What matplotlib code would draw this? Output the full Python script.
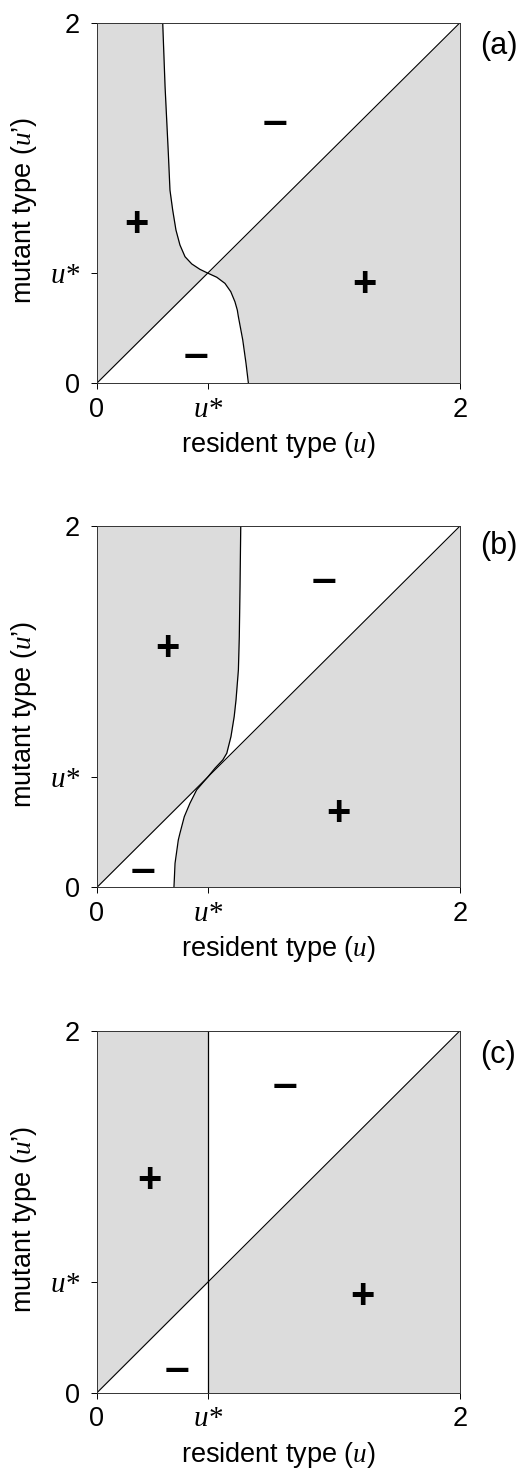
import matplotlib
matplotlib.use("Agg")
import matplotlib.pyplot as plt

plt.rcParams['font.family'] = ['Liberation Sans', 'DejaVu Sans']
plt.rcParams['mathtext.fontset'] = 'custom'
plt.rcParams['mathtext.it'] = 'Liberation Serif:italic'
plt.rcParams['mathtext.rm'] = 'Liberation Serif'

# singular strategy, same for all panels
u_star = 0.61

# boundary curves (x as a function of y)
curve_a_y = [2.0, 1.645, 1.275, 1.071, 0.960, 0.849, 0.766, 0.701, 0.661, 0.631, 0.61,
             0.587, 0.553, 0.507, 0.451, 0.405, 0.368, 0.239, 0.109, 0.0]
curve_a_x = [0.362, 0.375, 0.393, 0.402, 0.417, 0.435, 0.457, 0.485, 0.522, 0.567, 0.61,
             0.660, 0.705, 0.737, 0.760, 0.773, 0.779, 0.803, 0.821, 0.834]

curve_b_y = [2.0, 1.664, 1.387, 1.203, 1.038, 0.946, 0.834, 0.742, 0.705, 0.659, 0.61,
             0.539, 0.465, 0.391, 0.299, 0.262, 0.133, 0.0]
curve_b_x = [0.792, 0.788, 0.784, 0.779, 0.766, 0.756, 0.738, 0.715, 0.693, 0.650, 0.61,
             0.549, 0.512, 0.481, 0.457, 0.448, 0.430, 0.424]

curve_c_y = [2.0, 0.0]
curve_c_x = [0.61, 0.61]

# sign labels: (x, y) in data units
plus_a = [(0.22, 0.878), (1.471, 0.545)]
minus_a = [(0.981, 1.438), (0.545, 0.148)]
plus_b = [(0.389, 1.319), (1.330, 0.406)]
minus_b = [(1.251, 1.692), (0.253, 0.090)]
plus_c = [(0.288, 1.169), (1.460, 0.527)]
minus_c = [(1.038, 1.694), (0.443, 0.125)]

panel_names = ['(a)', '(b)', '(c)']
tick_vals = [0, u_star, 2]
tick_labels = ['0', 'u*', '2']

W, H = 521, 1468
fig = plt.figure(figsize=(W / 100, H / 100), dpi=100)

rects = [
    [97 / W, 1 - 383 / H, 363 / W, 360.3 / H],
    [97 / W, 1 - 887.3 / H, 363 / W, 361.3 / H],
    [97 / W, 1 - 1392.7 / H, 363 / W, 362 / H],
]
name_y = [0.936, 0.945, 0.934]
curves = [(curve_a_x, curve_a_y), (curve_b_x, curve_b_y), (curve_c_x, curve_c_y)]
signs = [(plus_a, minus_a), (plus_b, minus_b), (plus_c, minus_c)]

gray = '#dcdcdc'

for rect, (cx, cy), (pl, mi), name, ny in zip(rects, curves, signs, panel_names, name_y):
    ax = fig.add_axes(rect)
    ax.set_facecolor(gray)
    # white between boundary curve and diagonal
    ax.fill_betweenx(cy, cx, cy, color='white', lw=0)
    ax.plot(cx, cy, color='black', lw=0.9)
    ax.plot([0, 2], [0, 2], color='black', lw=0.8)

    for x, y in pl:
        ax.text(x, y, '+', ha='center', va='center', fontsize=30,
                fontweight='bold', family='Liberation Sans')
    for x, y in mi:
        ax.text(x, y, '\u2013', ha='center', va='center', fontsize=32,
                fontweight='bold', family='Liberation Sans')

    ax.set_xlim(0, 2)
    ax.set_ylim(0, 2)
    ax.set_xticks(tick_vals)
    ax.set_xticklabels(tick_labels)
    ax.set_yticks(tick_vals)
    ax.set_yticklabels(tick_labels)
    ax.tick_params(axis='x', direction='out', length=4.3, width=0.7, labelsize=19.5, pad=5.5)
    ax.tick_params(axis='y', direction='out', length=4.3, width=0.7, labelsize=19.5, pad=8)
    for lbl in ax.get_xticklabels() + ax.get_yticklabels():
        if lbl.get_text() == 'u*':
            lbl.set_family('Liberation Serif')
            lbl.set_style('italic')
            lbl.set_fontsize(21)
    for sp in ax.spines.values():
        sp.set_linewidth(0.7)
        sp.set_color('#333333')

    ax.set_xlabel('resident type ($u$)', fontsize=19.5)
    ax.set_ylabel('mutant type ($u$\u2019)', fontsize=19.5)
    ax.xaxis.set_label_coords(0.5, -0.13)
    ax.yaxis.set_label_coords(-0.16, 0.48)

    ax.text(1.055, ny, name, transform=ax.transAxes, ha='left', va='center',
            fontsize=22)

fig.savefig('out.png', dpi=100)
